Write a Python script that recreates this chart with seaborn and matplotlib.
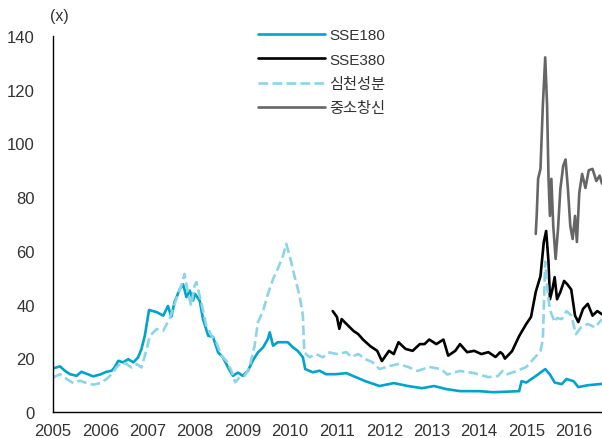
import matplotlib
matplotlib.use("Agg")
import matplotlib.pyplot as plt
import pandas as pd
import seaborn as sns

# SSE180 (solid blue)
sse180_t = [2005.0, 2005.15, 2005.25, 2005.36, 2005.5, 2005.6, 2005.75, 2005.85, 2006.0, 2006.13,
            2006.24, 2006.3, 2006.38, 2006.48, 2006.59, 2006.7, 2006.8, 2006.87, 2006.94, 2007.01,
            2007.03, 2007.19, 2007.33, 2007.43, 2007.5, 2007.57, 2007.68, 2007.75, 2007.82, 2007.89,
            2007.96, 2008.0, 2008.1, 2008.17, 2008.28, 2008.38, 2008.49, 2008.59, 2008.7, 2008.8,
            2008.91, 2009.01, 2009.12, 2009.22, 2009.33, 2009.44, 2009.54, 2009.58, 2009.65, 2009.75,
            2009.86, 2009.96, 2010.07, 2010.17, 2010.28, 2010.33, 2010.49, 2010.63, 2010.77, 2010.98,
            2011.2, 2011.4, 2011.6, 2011.9, 2012.2, 2012.5, 2012.8, 2013.05, 2013.3, 2013.6,
            2014.0, 2014.3, 2014.6, 2014.85, 2014.9, 2015.0, 2015.2, 2015.4, 2015.5, 2015.6,
            2015.75, 2015.85, 2016.0, 2016.1, 2016.3, 2016.6]
sse180_v = [16.3, 17, 15.4, 14.1, 13.5, 15, 14, 13.3, 14, 15,
            15.4, 16.6, 19.1, 18.5, 19.7, 18.5, 20.4, 23.5, 28.4, 35.9,
            38, 37.2, 35.9, 39.5, 35.5, 41, 45.8, 47.5, 42.8, 45.2,
            41.5, 44, 41.5, 34.6, 28.4, 28, 22.2, 20.4, 16.6, 13.5,
            14.7, 13.5, 15.4, 19.1, 22.2, 24.1, 27.2, 29.7, 24.7, 26,
            26, 26, 24.1, 22.8, 20.4, 16, 14.8, 15.4, 14.1, 14.1,
            14.5, 13, 11.5, 9.7, 10.8, 9.7, 8.9, 9.7, 8.6, 7.8,
            7.8, 7.4, 7.6, 7.8, 11.5, 11, 13.4, 16, 14, 11,
            10.4, 12.3, 11.5, 9.3, 10, 10.5]

# SSE380 (black)
sse380_t = [2010.91, 2011.0, 2011.05, 2011.1, 2011.2, 2011.35, 2011.45, 2011.55, 2011.7, 2011.85,
            2011.95, 2012.1, 2012.2, 2012.3, 2012.45, 2012.6, 2012.75, 2012.85, 2012.95, 2013.1,
            2013.25, 2013.35, 2013.5, 2013.6, 2013.75, 2013.9, 2014.05, 2014.2, 2014.35, 2014.45,
            2014.5, 2014.55, 2014.7, 2014.85, 2015.0, 2015.1, 2015.2, 2015.3, 2015.37, 2015.42,
            2015.47, 2015.5, 2015.55, 2015.6, 2015.65, 2015.72, 2015.8, 2015.87, 2015.95, 2016.03,
            2016.1, 2016.2, 2016.3, 2016.4, 2016.5, 2016.6]
sse380_v = [37.6, 35.4, 31, 34.6, 32.8, 30.2, 29, 27, 24.6, 22.8,
            19, 22.8, 21.6, 26, 23.5, 22.8, 25.3, 25.3, 27, 25.3,
            27, 21, 22.8, 25.3, 22.3, 22.8, 21.6, 22.3, 20.5, 22.3,
            21.6, 19.9, 22.7, 28.3, 32.8, 35.4, 44.7, 50.6, 63.3, 67.4,
            55.9, 42, 45.5, 50.2, 42, 44.7, 48.8, 47.5, 45.6, 35.9,
            33.5, 38.4, 40.3, 35.9, 37.6, 36.4]

# 심천성분 (dashed light blue)
szse_t = [2005.0, 2005.15, 2005.29, 2005.43, 2005.57, 2005.71, 2005.85, 2006.0, 2006.13, 2006.24,
          2006.34, 2006.45, 2006.55, 2006.66, 2006.77, 2006.87, 2006.97, 2007.05, 2007.19, 2007.33,
          2007.47, 2007.57, 2007.64, 2007.71, 2007.78, 2007.85, 2007.92, 2007.99, 2008.03, 2008.14,
          2008.24, 2008.35, 2008.45, 2008.56, 2008.66, 2008.77, 2008.85, 2008.94, 2009.05, 2009.15,
          2009.26, 2009.33, 2009.44, 2009.54, 2009.65, 2009.75, 2009.86, 2009.93, 2010.0, 2010.1,
          2010.21, 2010.28, 2010.31, 2010.42, 2010.56, 2010.7, 2010.84, 2011.0, 2011.2, 2011.3,
          2011.45, 2011.6, 2011.75, 2011.9, 2012.1, 2012.3, 2012.5, 2012.7, 2012.95, 2013.2,
          2013.33, 2013.6, 2013.9, 2014.2, 2014.4, 2014.5, 2014.6, 2014.8, 2015.0, 2015.15,
          2015.3, 2015.35, 2015.4, 2015.45, 2015.5, 2015.6, 2015.65, 2015.75, 2015.85, 2015.95,
          2016.05, 2016.15, 2016.3, 2016.45, 2016.6]
szse_v = [12.9, 14.1, 12.3, 10.8, 11.7, 10.8, 10.2, 10.8, 12.3, 14.1,
          16.6, 18.5, 17.9, 16.6, 17.9, 16.6, 22.8, 28.4, 30.9, 30.3,
          35, 40.2, 43.9, 47, 51.4, 44.6, 39.6, 47, 48.4, 40.2,
          32.1, 28.4, 26, 21, 19.1, 15.4, 11.1, 12.9, 13.5, 16.6,
          24.7, 33.4, 37.7, 43.9, 49.5, 53.3, 58.2, 62.6, 58.2, 50.8,
          43.3, 35.9, 22.2, 20.4, 21.6, 20.4, 22.2, 21.6, 22.3, 20.5,
          21.6, 19.7, 18.6, 16, 17.1, 17.9, 16.8, 15.3, 16.8, 16,
          14, 15.3, 14.5, 13, 13.4, 15.3, 14.1, 15.3, 16.8, 19.7,
          22.7, 27, 56, 45, 38, 33.5, 35, 34.6, 37.6, 36,
          29, 31.4, 32.8, 31.5, 34.6]

# 중소창신 (gray)
chinext_t = [2015.2, 2015.22, 2015.25, 2015.3, 2015.35, 2015.4, 2015.44, 2015.47, 2015.5, 2015.53,
             2015.57, 2015.62, 2015.67, 2015.72, 2015.78, 2015.83, 2015.88, 2015.93, 2015.98, 2016.03,
             2016.07, 2016.12, 2016.18, 2016.25, 2016.32, 2016.4, 2016.48, 2016.55, 2016.6]
chinext_v = [66.3, 73, 86.8, 90.5, 114, 132, 114, 86.8, 73, 86.8,
             69.3, 57, 68, 83, 91.6, 94, 83, 69.3, 64.4, 73,
             63.3, 81.6, 88.6, 83.4, 90, 90.5, 86, 88, 85]

years = list(range(2005, 2017))
y_ticks = list(range(0, 141, 20))

sns.set_style("white")
plt.rcParams['font.family'] = ['Liberation Sans', 'Noto Sans CJK KR', 'DejaVu Sans']

fig = plt.figure(figsize=(6.02, 4.39), dpi=100)
ax = fig.add_axes([0.088, 0.059, 0.912, 0.857])

lw = 1.9
sns.lineplot(x=sse180_t, y=sse180_v, ax=ax, color='#00A3CC', lw=lw, label='SSE180')
sns.lineplot(x=sse380_t, y=sse380_v, ax=ax, color='black', lw=lw, label='SSE380')
sns.lineplot(x=szse_t, y=szse_v, ax=ax, color='#8CD5E8', lw=lw, linestyle='--', label='심천성분')
sns.lineplot(x=chinext_t, y=chinext_v, ax=ax, color='#666666', lw=lw, label='중소창신')

ax.set_xlim(2005, 2016.6)
ax.set_ylim(0, 140)
ax.set_xticks(years)
ax.set_yticks(y_ticks)
ax.tick_params(direction='in', length=4, width=1, colors='black', labelcolor='#333333',
               labelsize=12)
ax.tick_params(axis='x', pad=8)
ax.tick_params(axis='y', pad=13)
sns.despine(ax=ax)
for s in ['left', 'bottom']:
    ax.spines[s].set_color('black')
    ax.spines[s].set_linewidth(1)
ax.set_xlabel('')
ax.set_ylabel('')

fig.text(0.098, 0.962, '(x)', fontsize=11.5, color='#333333', ha='center', va='center')

leg = ax.legend(loc='upper left', bbox_to_anchor=(0.405, 0.965), bbox_transform=fig.transFigure,
                frameon=False, handlelength=4.4, handletextpad=0.3, labelspacing=0.68,
                fontsize=11, borderpad=0.4)
for t in leg.get_texts():
    t.set_color('#333333')

fig.savefig('out.png', dpi=100)
